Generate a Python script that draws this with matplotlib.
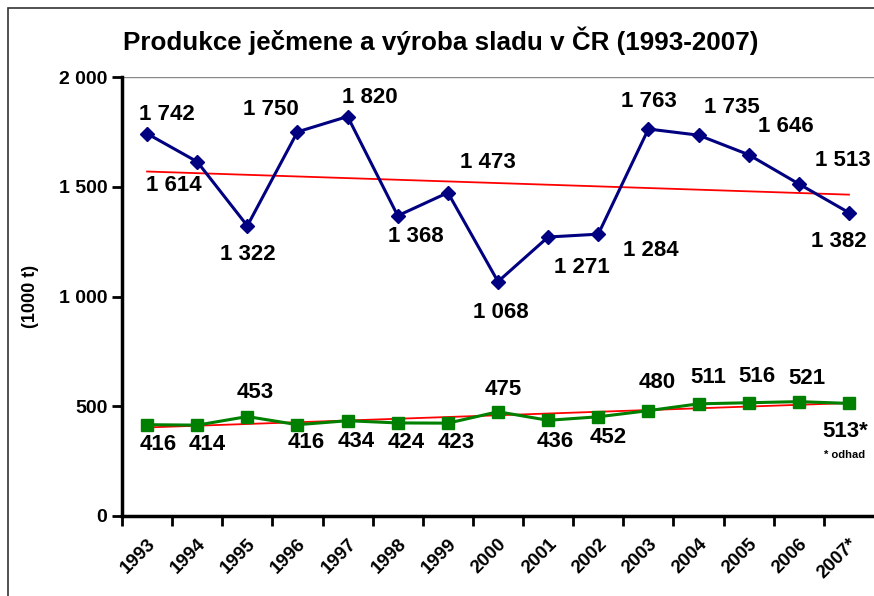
import numpy as np
import matplotlib
matplotlib.use('Agg')
import matplotlib.pyplot as plt
from matplotlib.patches import Rectangle

plt.rcParams['font.family'] = ['Liberation Sans', 'DejaVu Sans']
plt.rcParams['font.weight'] = 'bold'

years = ['1993', '1994', '1995', '1996', '1997', '1998', '1999', '2000',
         '2001', '2002', '2003', '2004', '2005', '2006', '2007*']
barley = [1742, 1614, 1322, 1750, 1820, 1368, 1473, 1068, 1271, 1284,
          1763, 1735, 1646, 1513, 1382]
malt = [416, 414, 453, 416, 434, 424, 423, 475, 436, 452,
        480, 511, 516, 521, 513]
# label placement per point, offset in points
barley_off = [(14, 14), (-17, -17), (0, -21), (-19, 16), (16, 14), (13, -15),
              (29, 22), (2, -22), (24, -22), (38, -12), (0, 20), (24, 20),
              (27, 20), (32, 17), (-7, -21)]
malt_off = [(8, -14), (7, -14), (6, 17), (6, -13), (6, -15), (6, -14),
            (6, -14), (4, 16), (5, -15), (7, -15), (6, 20), (7, 19),
            (6, 19), (6, 17), (-3, -20)]

def fmt(v):
    return f'{v:,}'.replace(',', ' ')

x = np.arange(len(years))

fig = plt.figure(figsize=(8.74, 5.96), dpi=100)
ax = fig.add_axes([122 / 874, 1 - 516 / 596, 752 / 874, (516 - 77) / 596])

fig.patches.append(Rectangle((8 / 874, -0.1), 1.2, 1 - 8 / 596 + 0.1,
                             transform=fig.transFigure, fill=False,
                             edgecolor='#333333', linewidth=1.2))

# linear trend lines
for ser in (barley, malt):
    k, q = np.polyfit(x, ser, 1)
    ax.plot(x, k * x + q, color='red', linewidth=1.3, zorder=2)

ax.plot(x, barley, color='#000080', linewidth=2.2, marker='D',
        markersize=7, zorder=3)
ax.plot(x, malt, color='#008000', linewidth=2.2, marker='s',
        markersize=8, zorder=3)

for xi, v, (dx, dy) in zip(x, barley, barley_off):
    ax.annotate(fmt(v), (xi, v), xytext=(dx, dy), textcoords='offset points',
                ha='center', va='center', fontsize=16, fontweight='bold')
for i, (xi, v, (dx, dy)) in enumerate(zip(x, malt, malt_off)):
    txt = fmt(v) + ('*' if i == len(malt) - 1 else '')
    ax.annotate(txt, (xi, v), xytext=(dx, dy), textcoords='offset points',
                ha='center', va='center', fontsize=16, fontweight='bold')
ax.annotate('* odhad', (x[-1], malt[-1]), xytext=(-3, -37),
            textcoords='offset points', ha='center', va='center',
            fontsize=8, fontweight='bold')

ax.set_xlim(-0.5, len(years) - 0.5)
ax.set_ylim(0, 2000)
ax.set_yticks([0, 500, 1000, 1500, 2000])
ax.set_yticklabels([fmt(v) for v in [0, 500, 1000, 1500, 2000]],
                   fontsize=14, fontweight='bold')
ax.set_xticks(x - 0.5)
ax.set_xticklabels([])
ax.set_xticks(x, minor=True)
ax.set_xticklabels(years, minor=True, rotation=45, ha='right',
                   rotation_mode='anchor', fontsize=13.5, fontweight='bold')
ax.tick_params(axis='x', which='minor', length=0, pad=14)
ax.tick_params(axis='both', which='major', length=7, width=2, direction='out')
ax.axhline(2000, color='#888888', linewidth=1, zorder=1)

for s in ('top', 'right'):
    ax.spines[s].set_visible(False)
for s in ('left', 'bottom'):
    ax.spines[s].set_linewidth(2.5)

ax.set_ylabel('(1000 t)', fontsize=13, fontweight='bold', labelpad=14)
fig.text(441 / 874, 1 - 41 / 596, 'Produkce ječmene a výroba sladu v ČR (1993-2007)',
         ha='center', va='center', fontsize=18.7, fontweight='bold')

fig.savefig('out.png', dpi=100)
